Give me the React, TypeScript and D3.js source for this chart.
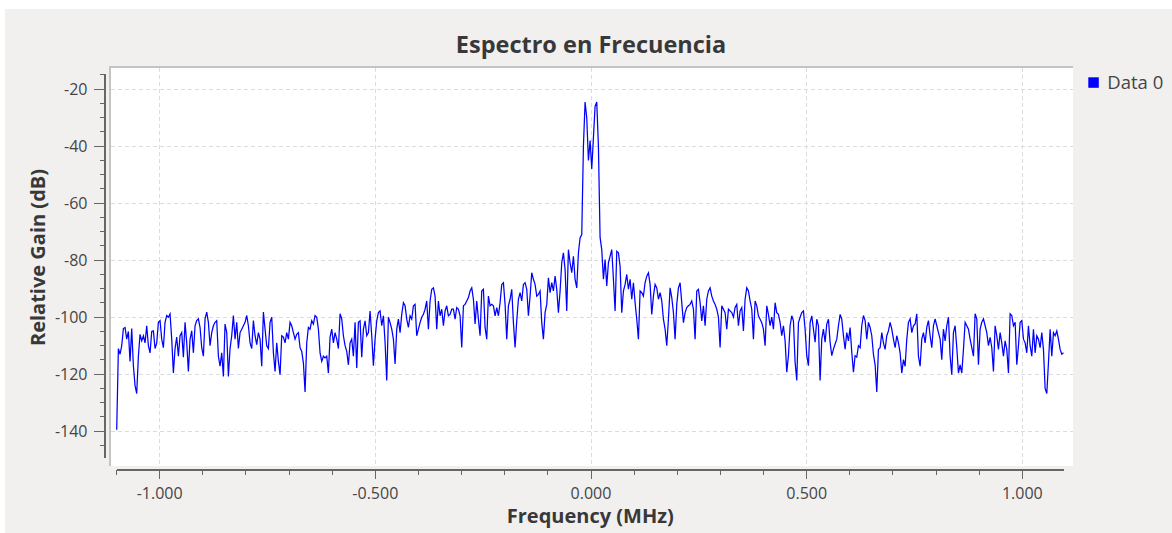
import React from 'react';
import * as d3 from 'd3';

const plotTitle = 'Espectro en Frecuencia';
const xAxisTitle = 'Frequency (MHz)';
const yAxisTitle = 'Relative Gain (dB)';
const seriesName = 'Data 0';

// FFT bins: centre of the first bin and bin spacing, in MHz
const firstBinMHz = -1.0995;
const binWidthMHz = 0.003864;

// relative gain (dB) per bin from left to right
const gainOuterLeft = [
  -139.5, -111, -113, -110, -104, -103.6, -107.7, -105, -115.5, -104,
  -117, -124, -126.8, -113.7, -106, -108.3, -106.5, -109, -103, -110,
  -112.5, -105, -104.8, -111, -109, -101.8, -101.2, -107.7, -110.7, -101.8,
  -99.4, -100, -98.8, -107.7, -119.6, -111, -107, -113.7, -106.5, -105.4,
  -114, -101.8, -109, -119, -107.7, -104.8, -112.5, -103, -101.2, -100.6,
  -103.6, -110.7, -113.7, -100.6, -98.2, -101.8, -110, -105.4, -103, -101.8,
  -101.2, -113.7, -117.2, -112.5, -120.8, -102.4, -105.4, -120.8, -111, -106.5,
  -99.4, -107.7, -101.8, -111, -105.4, -104.2, -103, -101.8, -99.4, -103,
  -109, -111, -101.2, -106.5, -109.6, -105.4, -107.7, -117.2, -98.2, -104.2,
  -110, -111, -101.8, -100, -112.5, -119, -109, -115.5, -120.2, -106.5,
  -107, -109, -105.4, -107.7, -101.8, -103, -105.4, -107.7, -106, -105.4,
  -110.7, -112, -116, -126.2, -109, -103.6, -104.2, -101.2, -102.4, -99.4,
  -100, -104.2, -112.5, -115.5, -113.7, -114.3, -113.7, -119.6, -107, -104.2,
  -109, -105.4, -107.7, -111, -98.8, -100.6, -106.5, -110, -112, -116.7,
  -109, -107.7, -113.7, -101.8, -117.8, -101.8,
];

const gainInnerLeft = [
  -101.3, -114, -104.2, -101.3, -106.5, -105.4, -97.8, -106.5, -117, -107.7,
  -101.3, -98.4, -97.8, -103, -99.5, -108.8, -122.2, -100, -101.9, -104.2,
  -107.7, -116.4, -104.2, -100.7, -105.4, -99, -94.9, -96, -100.7, -103.6,
  -99.5, -100.7, -96, -95.5, -106.5, -104.2, -101.9, -100, -99, -97.2,
  -94.3, -104.2, -94.3, -90.2, -89.7, -92.6, -104.2, -94.3, -99.5, -97.2,
  -103, -97.8, -96, -99.5, -99, -97.2, -97.2, -100.7, -96.6, -97.2,
  -99.5, -110.6, -96, -95.5, -94.3, -93.1, -90.8, -89.7, -93.7, -102.4,
  -94.3, -100.7, -106.5, -90.8, -90.2, -103.6, -107.7, -92.6, -96, -95.5,
  -96, -99.5, -96.6, -99.5, -94.9, -88.5, -87.9, -95.5, -107.7, -96,
  -93.7, -90.2, -101.9, -110.6, -101.3, -93.7, -91.4, -94.3, -88.5, -87.9,
  -90.2, -99.5, -92.6, -84.4, -86.7, -88.5, -92.6, -92, -90.8, -101.9,
  -107.7, -98.4, -95.5, -86.2, -91.4, -87.9, -90.8, -85.6, -90.2, -98.4,
  -90.8, -80.9, -77.4, -83.3, -97.8, -76.3, -80.9, -84.4, -78.6, -86.7,
  -89.7, -77.4, -72.2, -71,
];

const gainCarrier = [-40, -24.5, -30, -45, -38, -48, -37, -26, -24.5, -40, -72];

const gainInnerRight = [
  -76.3, -86.7, -79.8, -89, -80.9, -78.6, -76.3, -86.7, -97.8, -76.9,
  -77.4, -82.1, -98.4, -90.8, -88.5, -85, -90.2, -86.7, -93.7, -87.9,
  -94.9, -100.7, -107.7, -90.8, -91.4, -92.6, -87.9, -85.6, -84.4, -88.5,
  -99, -92.6, -88.5, -89.7, -93.7, -91.4, -94.3, -100.7, -104.2, -110,
  -100.7, -89.7, -93.1, -98.4, -107.7, -95.5, -89.7, -87.9, -94.9, -101.9,
  -98.4, -96.6, -96, -95.5, -94.3, -97.2, -107.7, -90.8, -90.2, -94.9,
  -101.3, -96, -103, -93.7, -90.8, -89.7, -92.6, -94.3, -95.5, -97.2,
  -100, -110.6, -96, -97.2, -98.4, -104.2, -97.2, -97.8, -98.4, -100,
  -96.6, -95.5, -103, -97.8, -96.6, -104.8, -93.7, -89.7, -90.8, -94.3,
  -97.2, -107.7, -94.3, -96, -99.5, -100.7, -101.9, -104.2, -110, -96,
  -99, -103, -100, -104.2, -94.9, -98.4, -99, -101.9, -106.5, -103,
  -108.3, -119.3, -113.5, -103, -99.5, -101.3, -115.8, -122.2, -101.9, -100,
  -98.4, -97.8, -104.2, -113.5, -117, -101.9, -99.5, -104.2, -108.8, -100.7,
  -103, -122.2, -107.7, -104.2, -108.8, -102.4, -100.7, -108.8, -113.5, -111.2,
  -109.4, -107.7, -103, -99, -100.7, -106.5, -111.2, -105.4, -108.3, -103.6,
  -112.3, -119.3, -113.5, -114, -110,
];

const gainOuterRight = [
  -110.7, -103, -99.4, -101.2, -107.7, -101.8, -103.6, -106.5, -113, -116.7,
  -126.2, -111.3, -110.7, -105.4, -109, -111.3, -106.5, -104.8, -101.8, -104.2,
  -107.7, -110.7, -106.5, -109, -112.5, -119.6, -114.9, -117.2, -107.7, -101.8,
  -100.6, -105.4, -103, -102.4, -98.8, -113.7, -117.2, -107.7, -105.4, -109,
  -103.6, -101.2, -106.5, -110.7, -103, -100.6, -103, -105.4, -107.7, -114.9,
  -104.2, -108.3, -103, -100, -113.7, -120.2, -105.4, -103, -110.7, -119.6,
  -116.7, -119.6, -111.3, -101.8, -103, -104.2, -107.7, -110.7, -113.7, -98.8,
  -100.6, -116.7, -104.2, -101.8, -100.6, -103, -105.4, -110, -107.1, -110.7,
  -119, -103, -106.5, -111.3, -105.4, -109, -113.7, -108.3, -111.3, -119.6,
  -98.8, -99.4, -103, -101.8, -116.7, -110, -101.8, -101.2, -107.7, -109,
  -112.5, -103, -110, -113.7, -104.2, -112.5, -106.5, -107.7, -110.7, -105.4,
  -111.3, -125, -126.8, -116, -104.2, -113.7, -105.4, -106.5, -104.8, -107.7,
  -111.3, -113, -112.5,
];

const xMajorTicks = [-1, -0.5, 0, 0.5, 1];
const xTickLabels = ['-1.000', '-0.500', '0.000', '0.500', '1.000'];
const yMajorTicks = [-140, -120, -100, -80, -60, -40, -20];
const yTickLabels = ['-140', '-120', '-100', '-80', '-60', '-40', '-20'];

const width = 1172;
const height = 533;
const canvas = { left: 109, top: 66, right: 1073, bottom: 466 };
const uiFont = '"Open Sans", "DejaVu Sans", sans-serif';
const textColor = '#454545';
const axisColor = '#666666';

type Bin = { f: number; g: number };

const App: React.FC = () => {
  const gain = [...gainOuterLeft, ...gainInnerLeft, ...gainCarrier, ...gainInnerRight, ...gainOuterRight];
  const bins: Bin[] = gain.map((g, i) => ({ f: firstBinMHz + i * binWidthMHz, g }));

  const xScale = d3.scaleLinear().domain([-1.1, 1.0965]).range([116.5, 1064]);
  const yScale = d3.scaleLinear().domain([-149.4, -14.6]).range([458, 73.8]);

  const line = d3
    .line<Bin>()
    .x((d) => xScale(d.f))
    .y((d) => yScale(d.g));

  // minor ticks every 0.1 MHz and every 5 dB
  const xMinor = d3.range(-11, 11).map((i) => i / 10).filter((v) => !xMajorTicks.some((m) => Math.abs(m - v) < 1e-9));
  const yMinor = d3.range(-145, -14, 5).filter((v) => !yMajorTicks.includes(v));

  const xAxisY = 470;
  const yAxisX = 105;

  return (
    <svg width={width} height={height} style={{ position: 'absolute', left: 0, top: 0 }}>
      <rect x={0} y={0} width={width} height={height} fill="#ffffff" />
      <rect x={5} y={9} width={width - 5} height={height - 9} fill="#f1f0ef" />

      {/* title */}
      <text x={591} y={53.3} textAnchor="middle" fontFamily={uiFont} fontWeight={700} fontSize={23.5} fill="#383838">
        {plotTitle}
      </text>

      {/* plot canvas */}
      <rect x={canvas.left} y={canvas.top} width={canvas.right - canvas.left} height={canvas.bottom - canvas.top} fill="#ffffff" />
      <clipPath id="canvas-clip">
        <rect x={canvas.left + 2} y={canvas.top + 2} width={canvas.right - canvas.left - 2} height={canvas.bottom - canvas.top - 2} />
      </clipPath>

      {/* grid */}
      <g stroke="#dcdcdc" strokeDasharray="4,3" shapeRendering="crispEdges">
        {xMajorTicks.map((t) => (
          <line key={`gx${t}`} x1={xScale(t)} x2={xScale(t)} y1={canvas.top + 2} y2={canvas.bottom} />
        ))}
        {yMajorTicks.map((t) => (
          <line key={`gy${t}`} x1={canvas.left + 2} x2={canvas.right} y1={yScale(t)} y2={yScale(t)} />
        ))}
      </g>

      {/* sunken frame */}
      <g shapeRendering="crispEdges">
        <line x1={canvas.left} x2={canvas.right} y1={canvas.top + 1} y2={canvas.top + 1} stroke="#c4c4c4" strokeWidth={2} />
        <line x1={canvas.left + 1} x2={canvas.left + 1} y1={canvas.top} y2={canvas.bottom} stroke="#c4c4c4" strokeWidth={2} />
      </g>

      {/* spectrum trace */}
      <g clipPath="url(#canvas-clip)">
        <path d={line(bins) ?? ''} fill="none" stroke="#0000ff" strokeWidth={1.25} strokeLinejoin="miter" />
      </g>

      {/* y axis */}
      <g stroke={axisColor} shapeRendering="crispEdges">
        <line x1={yAxisX} x2={yAxisX} y1={yScale(-14.6)} y2={yScale(-149.4)} strokeWidth={2} />
        {yMajorTicks.map((t) => (
          <line key={`ym${t}`} x1={94} x2={yAxisX} y1={yScale(t)} y2={yScale(t)} />
        ))}
        {yMinor.map((t) => (
          <line key={`yn${t}`} x1={99.5} x2={yAxisX} y1={yScale(t)} y2={yScale(t)} />
        ))}
      </g>
      <g fontFamily={uiFont} fontSize={16} fill={textColor} textAnchor="end">
        {yMajorTicks.map((t, i) => (
          <text key={`yl${t}`} x={87.5} y={yScale(t)} dy="0.36em">
            {yTickLabels[i]}
          </text>
        ))}
      </g>

      {/* x axis */}
      <g stroke={axisColor} shapeRendering="crispEdges">
        <line x1={xScale(-1.1)} x2={xScale(1.0965)} y1={xAxisY} y2={xAxisY} strokeWidth={2} />
        {xMajorTicks.map((t) => (
          <line key={`xm${t}`} x1={xScale(t)} x2={xScale(t)} y1={xAxisY} y2={479} />
        ))}
        {xMinor.map((t) => (
          <line key={`xn${t}`} x1={xScale(t)} x2={xScale(t)} y1={xAxisY} y2={475} />
        ))}
      </g>
      <g fontFamily={uiFont} fontSize={16} fill={textColor} textAnchor="middle">
        {xMajorTicks.map((t, i) => (
          <text key={`xl${t}`} x={xScale(t)} y={498.5}>
            {xTickLabels[i]}
          </text>
        ))}
      </g>

      {/* axis titles */}
      <text x={590.3} y={523.3} textAnchor="middle" fontFamily={uiFont} fontWeight={700} fontSize={20} fill="#383838">
        {xAxisTitle}
      </text>
      <text
        transform="translate(44.5, 257.5) rotate(-90)"
        textAnchor="middle"
        fontFamily={uiFont}
        fontWeight={700}
        fontSize={20}
        fill="#383838"
      >
        {yAxisTitle}
      </text>

      {/* legend */}
      <rect x={1088.3} y={77.3} width={10.5} height={10.5} fill="#0000ff" />
      <text x={1107.3} y={89} fontFamily={uiFont} fontSize={18.5} fill={textColor}>
        {seriesName}
      </text>
    </svg>
  );
};

export default App;
